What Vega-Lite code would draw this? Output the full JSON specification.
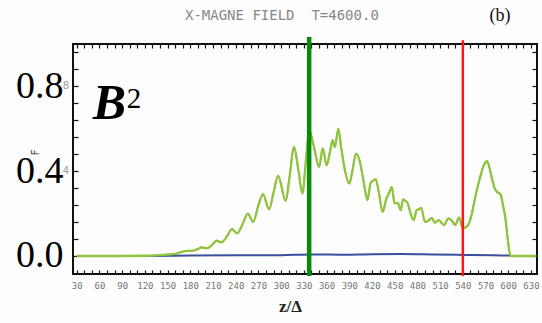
{
  "$schema": "https://vega.github.io/schema/vega-lite/v6.json",
  "autosize": "none",
  "width": 464,
  "height": 230,
  "padding": {"left": 73, "top": 44, "right": 5, "bottom": 49},
  "background": "#fdfdfd",
  "config": {"view": {"stroke": "#111", "strokeWidth": 2}},
  "datasets": {
    "curve": [
      {"z": 30, "b": 0}, {"z": 60, "b": 0}, {"z": 90, "b": 0}, {"z": 120, "b": 0.001},
      {"z": 140, "b": 0.004}, {"z": 160, "b": 0.01}, {"z": 175, "b": 0.024}, {"z": 184, "b": 0.025},
      {"z": 190, "b": 0.033}, {"z": 195, "b": 0.041}, {"z": 202, "b": 0.036}, {"z": 208, "b": 0.05},
      {"z": 215, "b": 0.072}, {"z": 221, "b": 0.064}, {"z": 228, "b": 0.09}, {"z": 235, "b": 0.127},
      {"z": 242, "b": 0.107}, {"z": 249, "b": 0.15}, {"z": 256, "b": 0.2}, {"z": 263, "b": 0.161},
      {"z": 270, "b": 0.24}, {"z": 276, "b": 0.292}, {"z": 284, "b": 0.22}, {"z": 290, "b": 0.3},
      {"z": 296, "b": 0.378}, {"z": 306, "b": 0.26}, {"z": 311, "b": 0.37}, {"z": 317, "b": 0.514},
      {"z": 323, "b": 0.4}, {"z": 328, "b": 0.295}, {"z": 333, "b": 0.46}, {"z": 337, "b": 0.593},
      {"z": 343, "b": 0.52}, {"z": 350, "b": 0.42}, {"z": 355, "b": 0.507}, {"z": 360, "b": 0.428},
      {"z": 365, "b": 0.5}, {"z": 368, "b": 0.546}, {"z": 371, "b": 0.514}, {"z": 375.5, "b": 0.601},
      {"z": 379, "b": 0.52}, {"z": 383, "b": 0.428}, {"z": 390, "b": 0.342}, {"z": 394, "b": 0.4},
      {"z": 399, "b": 0.483}, {"z": 404, "b": 0.444}, {"z": 409, "b": 0.35}, {"z": 414, "b": 0.264},
      {"z": 418, "b": 0.342}, {"z": 421, "b": 0.355}, {"z": 425, "b": 0.361}, {"z": 429, "b": 0.3},
      {"z": 434, "b": 0.208}, {"z": 439, "b": 0.27}, {"z": 443, "b": 0.3}, {"z": 446, "b": 0.325},
      {"z": 450, "b": 0.248}, {"z": 454, "b": 0.25}, {"z": 458, "b": 0.216}, {"z": 461, "b": 0.267},
      {"z": 464, "b": 0.26}, {"z": 467, "b": 0.25}, {"z": 471, "b": 0.2}, {"z": 475, "b": 0.169},
      {"z": 479, "b": 0.216}, {"z": 482, "b": 0.22}, {"z": 485, "b": 0.227}, {"z": 490, "b": 0.161},
      {"z": 494, "b": 0.165}, {"z": 499, "b": 0.18}, {"z": 503, "b": 0.157}, {"z": 508, "b": 0.169},
      {"z": 511, "b": 0.16}, {"z": 515, "b": 0.146}, {"z": 521, "b": 0.177}, {"z": 525, "b": 0.169},
      {"z": 530, "b": 0.146}, {"z": 535, "b": 0.182}, {"z": 540, "b": 0.13}, {"z": 547, "b": 0.146},
      {"z": 552, "b": 0.2}, {"z": 556, "b": 0.271}, {"z": 563, "b": 0.373}, {"z": 568, "b": 0.43},
      {"z": 572, "b": 0.447}, {"z": 575, "b": 0.42}, {"z": 578, "b": 0.373}, {"z": 582, "b": 0.32},
      {"z": 585, "b": 0.303}, {"z": 590, "b": 0.29}, {"z": 593, "b": 0.24}, {"z": 596, "b": 0.185},
      {"z": 600, "b": 0.06}, {"z": 603, "b": 0}, {"z": 615, "b": 0}, {"z": 637, "b": 0}
    ],
    "blue": [
      {"z": 30, "b": 0}, {"z": 120, "b": 0.0}, {"z": 180, "b": 0.002}, {"z": 240, "b": 0.003},
      {"z": 300, "b": 0.004}, {"z": 340, "b": 0.007}, {"z": 380, "b": 0.006}, {"z": 420, "b": 0.008},
      {"z": 460, "b": 0.009}, {"z": 500, "b": 0.007}, {"z": 540, "b": 0.005}, {"z": 580, "b": 0.004},
      {"z": 603, "b": 0.002}
    ],
    "markers": [
      {"z": 337, "y": -0.095, "y2": 1.033, "kind": "green"},
      {"z": 540, "y": -0.095, "y2": 1.018, "kind": "red"}
    ],
    "idl": [
      {"z": 25, "b": 0.8, "t": "8"},
      {"z": 25, "b": 0.4, "t": "4"}
    ]
  },
  "resolve": {"axis": {"x": "independent", "y": "independent"}},
  "layer": [
    {
      "data": {"name": "curve"},
      "mark": {"type": "line", "color": "#ff2020", "strokeWidth": 1.4, "interpolate": "monotone"},
      "encoding": {
        "x": {
          "field": "z", "type": "quantitative",
          "scale": {"domain": [25, 638], "nice": false, "zero": false},
          "axis": {
            "orient": "bottom",
            "values": [30,40,50,60,70,80,90,100,110,120,130,140,150,160,170,180,190,200,210,220,230,240,250,260,270,280,290,300,310,320,330,340,350,360,370,380,390,400,410,420,430,440,450,460,470,480,490,500,510,520,530,540,550,560,570,580,590,600,610,620,630],
            "labelExpr": "datum.value % 30 == 0 ? datum.value : ''",
            "labelFont": "DejaVu Sans Mono",
            "labelFontSize": 9,
            "labelColor": "#777",
            "labelPadding": 11,
            "labelFlush": false,
            "labelOverlap": false,
            "tickSize": -4,
            "tickColor": "#111",
            "tickWidth": 1.2,
            "domain": false,
            "grid": false,
            "title": "z/Δ",
            "titleFont": "Liberation Serif",
            "titleFontSize": 17,
            "titleFontWeight": "bold",
            "titleColor": "#222",
            "titleX": 217,
            "titleY": 24
          }
        },
        "y": {
          "field": "b", "type": "quantitative",
          "scale": {"domain": [-0.085, 1.0], "nice": false, "zero": false},
          "axis": {
            "orient": "left",
            "values": [0, 0.08, 0.16, 0.24, 0.32, 0.4, 0.48, 0.56, 0.64, 0.72, 0.8, 0.88, 0.96],
            "labelExpr": "(datum.value == 0 || datum.value == 0.4 || datum.value == 0.8) ? format(datum.value, '.1f') : ''",
            "labelFont": "Liberation Serif",
            "labelFontSize": 38,
            "labelColor": "#000",
            "labelPadding": 15,
            "labelOverlap": false,
            "labelFlush": false,
            "labelBaseline": "middle",
            "tickSize": -5,
            "tickColor": "#111",
            "tickWidth": 1.2,
            "domain": false,
            "grid": false,
            "title": "F",
            "titleFont": "DejaVu Sans Mono",
            "titleFontSize": 10,
            "titleFontWeight": "normal",
            "titleColor": "#333",
            "titleAngle": 270,
            "titleX": -33,
            "titleY": 108
          }
        }
      }
    },
    {
      "data": {"name": "blue"},
      "mark": {"type": "line", "color": "#3a4f9e", "strokeWidth": 2, "interpolate": "monotone"},
      "encoding": {
        "x": {
          "field": "z", "type": "quantitative",
          "scale": {"domain": [25, 638], "nice": false, "zero": false},
          "axis": {
            "orient": "top",
            "values": [30,40,50,60,70,80,90,100,110,120,130,140,150,160,170,180,190,200,210,220,230,240,250,260,270,280,290,300,310,320,330,340,350,360,370,380,390,400,410,420,430,440,450,460,470,480,490,500,510,520,530,540,550,560,570,580,590,600,610,620,630],
            "labels": false,
            "tickSize": -4,
            "tickColor": "#111",
            "tickWidth": 1.2,
            "domain": false,
            "grid": false,
            "title": null
          }
        },
        "y": {
          "field": "b", "type": "quantitative",
          "scale": {"domain": [-0.085, 1.0], "nice": false, "zero": false},
          "axis": {
            "orient": "right",
            "values": [0, 0.08, 0.16, 0.24, 0.32, 0.4, 0.48, 0.56, 0.64, 0.72, 0.8, 0.88, 0.96],
            "labels": false,
            "tickSize": -5,
            "tickColor": "#111",
            "tickWidth": 1.2,
            "domain": false,
            "grid": false,
            "title": null
          }
        }
      }
    },
    {
      "data": {"name": "curve"},
      "mark": {"type": "line", "color": "#8dc63f", "strokeWidth": 2.3, "interpolate": "monotone"},
      "encoding": {
        "x": {"field": "z", "type": "quantitative", "scale": {"domain": [25, 638], "nice": false, "zero": false}, "axis": null},
        "y": {"field": "b", "type": "quantitative", "scale": {"domain": [-0.085, 1.0], "nice": false, "zero": false}, "axis": null}
      }
    },
    {
      "data": {"name": "markers"},
      "mark": {"type": "rule", "clip": false},
      "encoding": {
        "x": {"field": "z", "type": "quantitative", "scale": {"domain": [25, 638], "nice": false, "zero": false}, "axis": null},
        "y": {"field": "y", "type": "quantitative", "scale": {"domain": [-0.085, 1.0], "nice": false, "zero": false}, "axis": null},
        "y2": {"field": "y2"},
        "color": {"field": "kind", "type": "nominal", "scale": {"domain": ["green", "red"], "range": ["#0a8a0a", "#ff1515"]}, "legend": null},
        "strokeWidth": {"field": "kind", "type": "nominal", "scale": {"domain": ["green", "red"], "range": [4.5, 2.5]}, "legend": null}
      }
    },
    {
      "data": {"name": "idl"},
      "mark": {"type": "text", "font": "DejaVu Sans", "fontSize": 10, "align": "right", "baseline": "middle", "color": "#999", "dx": -4, "clip": false},
      "encoding": {
        "x": {"field": "z", "type": "quantitative", "scale": {"domain": [25, 638], "nice": false, "zero": false}, "axis": null},
        "y": {"field": "b", "type": "quantitative", "scale": {"domain": [-0.085, 1.0], "nice": false, "zero": false}, "axis": null},
        "text": {"field": "t"}
      }
    },
    {
      "data": {"values": [{"z": 51, "b": 0.645, "t": "B"}]},
      "mark": {"type": "text", "font": "Liberation Serif", "fontSize": 50, "fontWeight": "bold", "fontStyle": "italic", "align": "left", "baseline": "alphabetic", "color": "#000"},
      "encoding": {
        "x": {"field": "z", "type": "quantitative", "scale": {"domain": [25, 638], "nice": false, "zero": false}, "axis": null},
        "y": {"field": "b", "type": "quantitative", "scale": {"domain": [-0.085, 1.0], "nice": false, "zero": false}, "axis": null},
        "text": {"field": "t"}
      }
    },
    {
      "data": {"values": [{"z": 96, "b": 0.70, "t": "2"}]},
      "mark": {"type": "text", "font": "Liberation Serif", "fontSize": 29, "align": "left", "baseline": "alphabetic", "color": "#000"},
      "encoding": {
        "x": {"field": "z", "type": "quantitative", "scale": {"domain": [25, 638], "nice": false, "zero": false}, "axis": null},
        "y": {"field": "b", "type": "quantitative", "scale": {"domain": [-0.085, 1.0], "nice": false, "zero": false}, "axis": null},
        "text": {"field": "t"}
      }
    },
    {
      "data": {"values": [{"z": 301, "b": 1.134, "t": "X-MAGNE FIELD\u00a0\u00a0T=4600.0"}]},
      "mark": {"type": "text", "font": "DejaVu Sans Mono", "fontSize": 14, "align": "center", "baseline": "middle", "color": "#888", "clip": false},
      "encoding": {
        "x": {"field": "z", "type": "quantitative", "scale": {"domain": [25, 638], "nice": false, "zero": false}, "axis": null},
        "y": {"field": "b", "type": "quantitative", "scale": {"domain": [-0.085, 1.0], "nice": false, "zero": false}, "axis": null},
        "text": {"field": "t"}
      }
    },
    {
      "data": {"values": [{"z": 589, "b": 1.134, "t": "(b)"}]},
      "mark": {"type": "text", "font": "Liberation Serif", "fontSize": 18, "align": "center", "baseline": "middle", "color": "#111", "clip": false},
      "encoding": {
        "x": {"field": "z", "type": "quantitative", "scale": {"domain": [25, 638], "nice": false, "zero": false}, "axis": null},
        "y": {"field": "b", "type": "quantitative", "scale": {"domain": [-0.085, 1.0], "nice": false, "zero": false}, "axis": null},
        "text": {"field": "t"}
      }
    }
  ]
}
